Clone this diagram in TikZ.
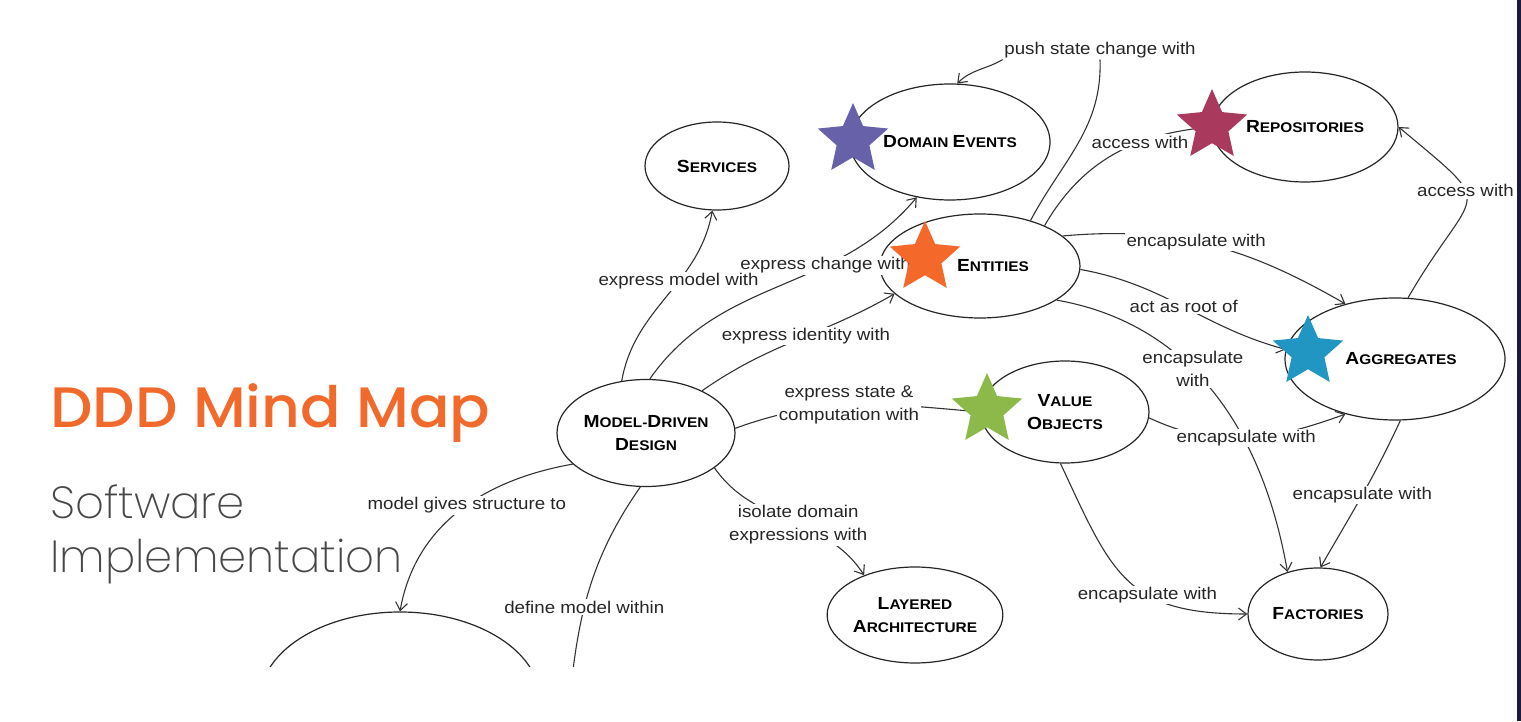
\documentclass[tikz,border=0pt]{standalone}
\usepackage{fontspec}
\setmainfont{Liberation Sans}
\newfontfamily\lblfont{Liberation Sans}[FakeStretch=1.1]
\newfontfamily\titlefont{Poppins Medium}[FakeStretch=1.05]
\newfontfamily\subfont{Poppins ExtraLight}
\usepackage{tikz}
\usetikzlibrary{shapes.geometric,arrows.meta}
\definecolor{ddorange}{HTML}{F26A2B}
\definecolor{navybar}{HTML}{1C1A3C}
\definecolor{stpurple}{HTML}{6661A8}
\definecolor{stred}{HTML}{A93A5E}
\definecolor{storange}{HTML}{F4682A}
\definecolor{stblue}{HTML}{2196C2}
\definecolor{stgreen}{HTML}{8DB94B}
% small caps by hand: big first letter, smaller rest
\newcommand{\sck}[2]{{\fontsize{17.5}{23}\selectfont #1}{\fontsize{14}{23}\selectfont #2}}

\begin{document}
\begin{tikzpicture}[x=1pt,y=1pt,
  concept/.style={ellipse,draw=black!85,line width=1.2pt,fill=white,inner sep=0pt,align=center,
    font=\lblfont\bfseries\fontsize{14}{23}\selectfont},
  lbl/.style={fill=white,inner sep=1.5pt,align=center,text=black!85,
    font=\lblfont\fontsize{17}{23}\selectfont},
  link/.style={draw=black!80,line width=1.1pt,-{Straight Barb[length=8pt,width=12pt]}},
  badge/.style={star,star points=5,star point ratio=2.15,minimum size=74pt,inner sep=0pt}]

\useasboundingbox (0,0) rectangle (1521,721);
\fill[white] (0,0) rectangle (1521,721);
\fill[navybar] (1517,0) rectangle (1521,721);

% mind map, cut off at the bottom
\begin{scope}
\clip (0,55) rectangle (1517,721);
\node[concept,minimum width=178pt,minimum height=107pt] (mdd) at (646,288) {\sck{M}{ODEL}-\sck{D}{RIVEN}\\\sck{D}{ESIGN}};
\node[concept,minimum width=144pt,minimum height=88pt] (svc) at (717,555) {\sck{S}{ERVICES}};
\node[concept,minimum width=200pt,minimum height=116pt] (evt) at (950,579) {\sck{D}{OMAIN} \sck{E}{VENTS}};
\node[concept,minimum width=186pt,minimum height=110pt] (repo) at (1305,594) {\sck{R}{EPOSITORIES}};
\node[concept,minimum width=200pt,minimum height=104pt] (ent) at (980,455) {\hspace*{26pt}\sck{E}{NTITIES}};
\node[concept,minimum width=220pt,minimum height=122pt] (agg) at (1395,362) {\hspace*{12pt}\sck{A}{GGREGATES}};
\node[concept,minimum width=168pt,minimum height=102pt] (vo) at (1065,309) {\sck{V}{ALUE}\\\sck{O}{BJECTS}};
\node[concept,minimum width=150pt,minimum height=96pt] (lay) at (915,106) {\sck{L}{AYERED}\\\sck{A}{RCHITECTURE}};
\node[concept,minimum width=140pt,minimum height=92pt] (fac) at (1318,107) {\sck{F}{ACTORIES}};
\node[concept,minimum width=280pt,minimum height=176pt] (lang) at (400,21) {};
\coordinate (ctx) at (566,-20);

% connectors from model-driven design
\draw[link] (mdd.86) to[out=55,in=-130] node[lbl,pos=0.66] {express change with} (evt.239);
\draw[link] (mdd.115) to[out=80,in=-100] node[lbl,pos=0.6] {express model with} (svc.264);
\draw[link] (mdd.37) to[out=35,in=-150] node[lbl,pos=0.55] {express identity with} (ent.198);
\draw[link] (mdd.3) to[out=20,in=175] node[lbl,pos=0.47] {express state \&\\computation with} (vo.180);
\draw[link] (mdd.-27) to[out=-55,in=123] node[lbl,pos=0.55] {isolate domain\\expressions with} (lay.142);
\draw[link] (mdd.203) to[out=190,in=80] node[lbl,pos=0.46] {model gives structure to} (lang.90);
\draw[link] (mdd.264) to[out=-125,in=85] node[lbl,pos=0.5] {define model within} (ctx);

% connectors from entities
\node[lbl] (push) at (1100,671) {push state change with};
\draw[link,-] (ent.42) to[out=62,in=-88] (push.south);
\draw[link] (push.south west) to[out=210,in=45] (evt.83);
\draw[link] (ent.32) to[out=60,in=185] node[lbl,pos=0.65] {access with} (repo.180);
\draw[link] (ent.20) to[out=5,in=150] node[lbl,pos=0.45] {encapsulate with} (agg.132);
\draw[link] (ent.-2) to[out=-10,in=165] node[lbl,pos=0.5] {act as root of} (agg.175);
\draw[link] (ent.-24) to[out=-10,in=100] node[lbl,pos=0.41] {encapsulate\\with} (fac.126);

% connectors from value objects and aggregates
\draw[link] (vo.-4) to[out=-25,in=200] node[lbl,pos=0.5] {encapsulate with} (agg.228);
\draw[link] (vo.265) to[out=-65,in=180,looseness=1.3] node[lbl,pos=0.62] {encapsulate with} (fac.180);
\draw[link] (agg.275) to[out=-115,in=60] node[lbl,pos=0.5] {encapsulate with} (fac.87);
\draw[link] (agg.78) to[out=60,in=-40,looseness=2] node[lbl,pos=0.6] {access with} (repo.0);
\end{scope}

% coloured stars
\node[badge,fill=stpurple] (evtstar) at (853,581) {};
\node[badge,fill=stred] (repostar) at (1212,595) {};
\node[badge,fill=storange] (entstar) at (925,463) {};
\node[badge,fill=stblue] (aggstar) at (1308,369) {};
\node[badge,fill=stgreen] (vostar) at (987,311) {};

% title
\node[anchor=base west,inner sep=0pt,text=ddorange,font=\titlefont\fontsize{57}{57}\selectfont] (title) at (50,293) {DDD Mind Map};
\node[anchor=base west,inner sep=0pt,text=black!72,font=\subfont\fontsize{45}{45}\selectfont] (soft) at (50,203) {Software};
\node[anchor=base west,inner sep=0pt,text=black!72,font=\subfont\fontsize{45}{45}\selectfont] (impl) at (50,149) {Implementation};
\end{tikzpicture}
\end{document}
